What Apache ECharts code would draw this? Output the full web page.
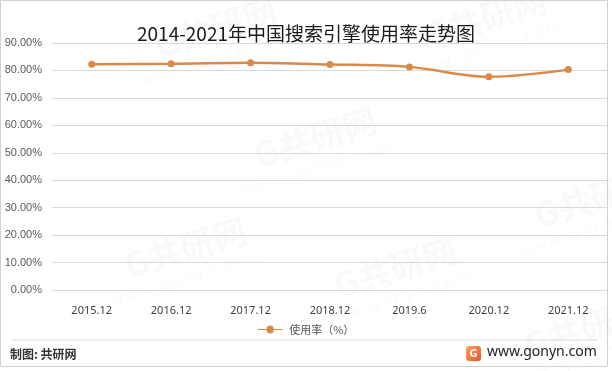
<!DOCTYPE html>
<html><head><meta charset="utf-8">
<script src="https://cdn.jsdelivr.net/npm/echarts@6/dist/echarts.min.js"></script>
<style>html,body{margin:0;padding:0;background:#fff}#c{width:612px;height:371px}</style>
</head><body><div id="c"></div>
<script>
const categories = ['2015.12','2016.12','2017.12','2018.12','2019.6','2020.12','2021.12'];
const usageRate = [82.3, 82.4, 82.8, 82.2, 81.3, 77.7, 80.3];
const seriesName = '使用率（%）';
const titleText = '2014-2021年中国搜索引擎使用率走势图';

const chart = echarts.init(document.getElementById('c'), null, {renderer:'canvas'});
const wm = [];
const wmPos = [[150,30],[420,20],[250,140],[530,200],[120,250],[330,270],[520,330]];
wmPos.forEach(p=>{
  wm.push({type:'text', x:p[0], y:p[1], rotation:0.3, silent:true, z:0,
    style:{text:'G共研网', font:'bold 34px "Noto Sans CJK SC"', fill:'rgba(0,0,0,0.025)'}});
  wm.push({type:'text', x:p[0]-10, y:p[1]+45, rotation:0.3, silent:true, z:0,
    style:{text:'w w w . g o n y n . c o m', font:'14px "Noto Sans"', fill:'rgba(0,0,0,0.025)'}});
});
chart.setOption({
  animation:false,
  backgroundColor:'#fff',
  title:{text:titleText, left:'center', top:19,
    textStyle:{fontFamily:'"Noto Sans CJK SC"', fontSize:19, fontWeight:'normal', color:'#1a1a1a'}},
  grid:{left:52, right:4, top:43, bottom:81},
  legend:{bottom:31, left:'center', itemWidth:28, itemHeight:8, itemGap:4,
    textStyle:{fontFamily:'"Noto Sans CJK SC"', fontSize:11, color:'#595959'},
    data:[{name:seriesName, icon:'path://M0,3.5L10,3.5A4,4,0,1,1,18,3.5L28,3.5L28,4.5L18,4.5A4,4,0,1,1,10,4.5L0,4.5Z'}]},
  xAxis:{type:'category', data:categories, boundaryGap:true,
    axisLine:{show:false}, axisTick:{show:false},
    axisLabel:{margin:15, fontFamily:'"Noto Sans"', fontSize:11, color:'#404040'}},
  yAxis:{type:'value', min:0, max:90, interval:10,
    axisLine:{show:false}, axisTick:{show:false},
    splitLine:{lineStyle:{color:'#d9d9d9', width:1}},
    axisLabel:{margin:10, fontFamily:'"Liberation Sans"', fontSize:11, color:'#595959',
      formatter:v=>v.toFixed(2)+'%'}},
  series:[{name:seriesName, type:'line', data:usageRate, smooth:0.35,
    symbol:'circle', symbolSize:7,
    lineStyle:{color:'#D98A4A', width:2.5},
    itemStyle:{color:'#D98A4A'}}],
  graphic:[
    ...wm,
    {type:'rect', shape:{x:0.5,y:0.5,width:607,height:366}, style:{fill:null, stroke:'#d0d0d0', lineWidth:1}, silent:true},
    {type:'line', shape:{x1:12,y1:340,x2:598,y2:340}, style:{stroke:'#d9d9d9', lineWidth:1}},
    {type:'text', x:10, y:348, style:{text:'制图: 共研网', font:'bold 12px "Noto Sans CJK SC"', fill:'#333'}},
    {type:'rect', shape:{x:466,y:346,width:15,height:15,r:3}, style:{fill:new echarts.graphic.LinearGradient(0,0,1,1,[{offset:0,color:'#F7A35C'},{offset:1,color:'#E8542C'}])}},
    {type:'text', x:473.5, y:353.5, style:{text:'G', font:'bold 11px "Noto Sans"', fill:'#fff', align:'center', verticalAlign:'middle'}},
    {type:'text', x:487, y:345, style:{text:'www.gonyn.com', font:'14px "Noto Sans"', fill:'#222'}}
  ]
});
</script></body></html>
